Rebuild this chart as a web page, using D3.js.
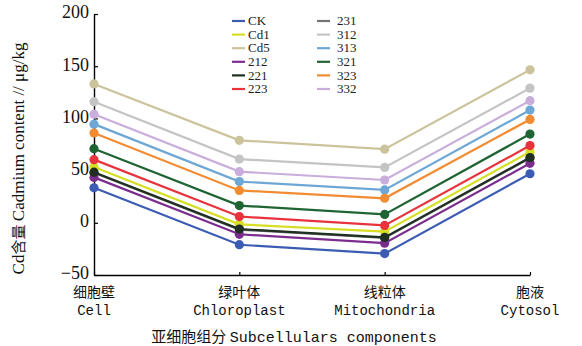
<!DOCTYPE html>
<html>
<head>
<meta charset="utf-8">
<script src="https://cdn.jsdelivr.net/npm/d3@7"></script>
<style>
  body { margin: 0; background: #fff; }
  svg { display: block; }
</style>
</head>
<body>
<div id="chart"></div>
<script>
const width = 582;
const height = 346;
const margin = { top: 14, right: 52, bottom: 71, left: 94 };
const serif = '"Liberation Serif", "Times New Roman", "DejaVu Serif", serif';
const mono = '"Liberation Mono", "Courier New", "DejaVu Sans Mono", monospace';
const cjk = '"Noto Sans CJK SC", sans-serif';

const categories = ["Cell", "Chloroplast", "Mitochondria", "Cytosol"];
const categoriesZh = ["细胞壁", "绿叶体", "线粒体", "胞液"];
const yTicks = [-50, 0, 50, 100, 150, 200];

const seriesNames = ["CK", "Cd1", "Cd5", "212", "221", "223", "231", "312", "313", "321", "323", "332"];
const seriesColors = ["#3c5cb4", "#d6df24", "#cbc39c", "#7b2d8e", "#1f2f22", "#e8323c", "#737373", "#c4c4c4", "#6da7d6", "#1f6433", "#f28c33", "#c9aedb"];

// values per series: Cell, Chloroplast, Mitochondria, Cytosol
const valCK = [33.5, -21, -29.5, 47];
const valCd1 = [53.5, -1.5, -8.5, 68];
const valCd5 = [133, 79, 70.5, 146.5];
const val212 = [43.5, -11, -19.5, 57];
const val221 = [48.5, -6, -14, 62.5];
const val223 = [60.5, 6, -2.5, 74];
const val231 = [48, -6.5, -14.5, 62];
const val312 = [116, 61, 53, 129];
const val313 = [94.5, 39.5, 31.5, 108];
const val321 = [71, 16.5, 8, 85];
const val323 = [86, 31, 23.5, 99];
const val332 = [104, 49, 41, 117];

const seriesValues = [valCK, valCd1, valCd5, val212, val221, val223, val231, val312, val313, val321, val323, val332];

const series = seriesNames.map((name, i) => ({
  name: name,
  color: seriesColors[i],
  values: seriesValues[i].map((v, j) => ({ cat: categories[j], value: v }))
}));

const svg = d3
  .select("#chart")
  .append("svg")
  .attr("width", width)
  .attr("height", height);

svg.append("rect").attr("width", width).attr("height", height).attr("fill", "#fff");

const x = d3
  .scalePoint()
  .domain(categories)
  .range([margin.left, width - margin.right]);

const y = d3
  .scaleLinear()
  .domain([-50, 200])
  .range([height - margin.bottom, margin.top]);

// Y axis, ticks pointing inward
const yAxis = svg
  .append("g")
  .attr("transform", `translate(${margin.left},0)`)
  .call(d3.axisLeft(y).tickValues(yTicks).tickSizeInner(-4).tickSizeOuter(0).tickPadding(5).tickFormat((d) => (d < 0 ? "\u221250" : d)));
yAxis.select(".domain").attr("stroke", "#000").attr("stroke-width", 1.4);
yAxis.selectAll(".tick line").attr("stroke", "#000").attr("stroke-width", 1.2);
yAxis
  .selectAll(".tick text")
  .attr("dy", "0.22em")
  .style("font-family", serif)
  .style("font-size", "18px")
  .attr("fill", "#111");

// X axis, ticks pointing up
const xAxis = svg
  .append("g")
  .attr("transform", `translate(0,${height - margin.bottom})`)
  .call(d3.axisBottom(x).tickSizeInner(-3).tickSizeOuter(0).tickFormat(""));
xAxis.select(".domain").attr("stroke", "#000").attr("stroke-width", 1.4);
xAxis.selectAll(".tick line").attr("stroke", "#000").attr("stroke-width", 1.2);

// Category labels, two lines
const catLabels = svg
  .append("g")
  .selectAll("g")
  .data(categories)
  .enter()
  .append("g")
  .attr("transform", (d) => `translate(${x(d)},0)`);
catLabels
  .append("text")
  .attr("y", height - margin.bottom + 22)
  .attr("text-anchor", "middle")
  .style("font-family", cjk)
  .style("font-size", "14px")
  .attr("fill", "#111")
  .text((d, i) => categoriesZh[i]);
catLabels
  .append("text")
  .attr("y", height - margin.bottom + 40)
  .attr("text-anchor", "middle")
  .style("font-family", mono)
  .style("font-size", "14px")
  .attr("fill", "#111")
  .text((d) => d);

// Axis titles
svg
  .append("text")
  .attr("x", (margin.left + width - margin.right) / 2 - 18)
  .attr("y", height - 4)
  .attr("text-anchor", "middle")
  .attr("fill", "#111")
  .call((t) => {
    t.append("tspan").style("font-family", cjk).style("font-size", "15px").text("亚细胞组分 ");
    t.append("tspan").style("font-family", mono).style("font-size", "15px").text("Subcellulars components");
  });

svg
  .append("text")
  .attr("transform", `translate(24,${(margin.top + height - margin.bottom) / 2 + 14}) rotate(-90)`)
  .attr("text-anchor", "middle")
  .attr("fill", "#111")
  .call((t) => {
    t.append("tspan").style("font-family", serif).style("font-size", "17px").text("Cd");
    t.append("tspan").style("font-family", cjk).style("font-size", "15px").text("含量 ");
    t.append("tspan").style("font-family", serif).style("font-size", "17px").text("Cadmium content // \u03bcg/kg");
  });

// Lines and points (231 drawn first, it sits under 221)
const drawOrder = series.slice().sort((a, b) => (a.name === "231" ? -1 : b.name === "231" ? 1 : 0));

const line = d3
  .line()
  .x((d) => x(d.cat))
  .y((d) => y(d.value));

const groups = svg
  .append("g")
  .selectAll("g")
  .data(drawOrder)
  .enter()
  .append("g");

groups
  .append("path")
  .attr("d", (d) => line(d.values))
  .attr("fill", "none")
  .attr("stroke", (d) => d.color)
  .attr("stroke-width", 2.2);

groups
  .selectAll("circle")
  .data((d) => d.values.map((v) => ({ ...v, color: d.color })))
  .enter()
  .append("circle")
  .attr("cx", (d) => x(d.cat))
  .attr("cy", (d) => y(d.value))
  .attr("r", 4.6)
  .attr("fill", (d) => d.color);

// Legend, two columns of six
const legend = svg
  .append("g")
  .selectAll("g")
  .data(series)
  .enter()
  .append("g")
  .attr("transform", (d, i) => `translate(${i < 6 ? 232 : 317},${21 + (i % 6) * 13.6})`);
legend
  .append("line")
  .attr("x1", 0)
  .attr("x2", 13)
  .attr("stroke", (d) => d.color)
  .attr("stroke-width", 2.2);
legend
  .append("text")
  .attr("x", (d, i) => (i < 6 ? 16 : 20))
  .attr("dy", "0.33em")
  .style("font-family", serif)
  .style("font-size", "13px")
  .attr("fill", "#222")
  .text((d) => d.name);
</script>
</body>
</html>
